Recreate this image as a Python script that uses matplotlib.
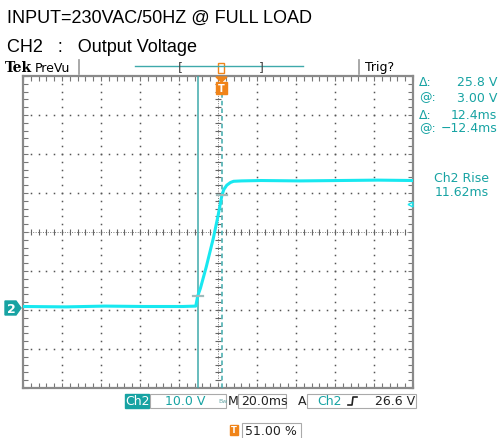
import matplotlib.pyplot as plt
from matplotlib.patches import Rectangle, Polygon
import numpy as np

# scope settings
volts_per_div = 10.0
ms_per_div = 20.0
trig_pos = 0.51          # trigger position in record (51.00 %)
ch2_pos_div = -1.94      # ground marker, divisions from centre
trig_level = 26.6

# Ch2 trace, time in ms relative to trigger, volts
time_ms = [-101.8, -80, -60, -40, -20, -13.4, -12.4, -11.0, -8.0, -4.4, -2.0, 0.0,
           1.0, 2.5, 4.4, 6.0, 10, 20, 40, 60, 80, 98.2]
ch2_v = [0.3, 0.2, 0.4, 0.3, 0.3, 0.4, 3.0, 5.0, 10.5, 17.8, 23.5, 28.8,
         30.3, 31.4, 32.1, 32.4, 32.5, 32.6, 32.5, 32.6, 32.7, 32.6]

# cursors
cursor_t = [-12.4, 0.0]
cursor_v = [3.0, 28.8]

title_lines = ["INPUT=230VAC/50HZ @ FULL LOAD", "CH2   :   Output Voltage"]
readouts = [("Δ:", "25.8 V"), ("@:", "3.00 V"), ("Δ:", "12.4ms"), ("@:", "\u221212.4ms")]
rise_label = ["Ch2 Rise", "11.62ms"]

W, H = 500, 439
TEAL = '#17a3a3'
CURS = '#3fa9ab'
TRACE = '#18e8f0'
ORANGE = '#f08419'
GRID = '#555555'


def fx(x):
    return x / W


def fy(y):
    return 1 - y / H


def ftext(x, y, s, **kw):
    kw.setdefault('va', 'center')
    kw.setdefault('fontsize', 9)
    fig.text(fx(x), fy(y), s, **kw)


def frect(x0, y0, x1, y1, **kw):
    fig.add_artist(Rectangle((fx(x0), fy(y1)), fx(x1) - fx(x0), fy(y0) - fy(y1),
                             transform=fig.transFigure, **kw))


def fline(xs, ys, **kw):
    fig.add_artist(plt.Line2D([fx(x) for x in xs], [fy(y) for y in ys],
                              transform=fig.transFigure, **kw))


fig = plt.figure(figsize=(5, 4.39), dpi=100, facecolor='white')

# graticule area in pixels
gl, gr, gt, gb = 23, 413, 77, 389
rect = [fx(gl), fy(gb), fx(gr) - fx(gl), fy(gt) - fy(gb)]

grat = fig.add_axes(rect)
grat.set_xlim(0, 10)
grat.set_ylim(0, 8)
grat.set_xticks(np.arange(0, 10.01, 0.2))
grat.set_yticks(np.arange(0, 8.01, 0.2))
grat.tick_params(direction='in', length=3.5, width=0.8, color='#777777',
                 top=True, right=True, labelbottom=False, labelleft=False)
for sp in grat.spines.values():
    sp.set_color('#8a8a8a')
    sp.set_linewidth(1.6)
grat.patch.set_alpha(0)

minor = np.arange(0.2, 10, 0.2)
minor_y = np.arange(0.2, 8, 0.2)
for i in range(1, 10):
    if i == 5:
        continue
    grat.plot([i] * len(minor_y), minor_y, ls='none', marker='s', ms=1.1, color=GRID, mew=0)
for j in range(1, 8):
    if j == 4:
        continue
    grat.plot(minor, [j] * len(minor), ls='none', marker='s', ms=1.1, color=GRID, mew=0)
# centre crosshair
grat.plot([0, 10], [4, 4], color='#777777', lw=0.7, ls=(0, (1, 1.5)))
grat.plot([5, 5], [0, 8], color='#777777', lw=0.7, ls=(0, (1, 1.5)))
grat.plot(minor, [4] * len(minor), ls='none', marker='|', ms=5, mew=0.8, color='#666666')
grat.plot([5] * len(minor_y), minor_y, ls='none', marker='_', ms=5, mew=0.8, color='#666666')

# signal axes in physical units
ax = fig.add_axes(rect)
t_left = -trig_pos * 10 * ms_per_div
ax.set_xlim(t_left, t_left + 10 * ms_per_div)
v_bot = (-4 - ch2_pos_div) * volts_per_div
ax.set_ylim(v_bot, v_bot + 8 * volts_per_div)
ax.axis('off')
ax.patch.set_alpha(0)

ax.axvline(cursor_t[0], color=CURS, lw=1.1)
ax.axvline(cursor_t[1], color=CURS, lw=1.1, ls=(0, (3, 2)))
ax.plot(time_ms, ch2_v, color=TRACE, lw=2.2, solid_joinstyle='round')
for t, v in zip(cursor_t, cursor_v):
    ax.plot([t - 2.6, t + 2.6], [v, v], color='#9fbcbc', lw=1.6)
ax.plot([t_left + 10 * ms_per_div - 1.6], [trig_level], marker='<', ms=3.5,
        color=TRACE, mfc='none', mew=1.0, clip_on=False)

# title text
ftext(7, 18, title_lines[0], fontsize=13, family='Liberation Sans')
ftext(7, 48, title_lines[1], fontsize=13, family='Liberation Sans')

# top status bar
ftext(5, 68, "Tek", fontsize=10, weight='bold', family='DejaVu Serif')
ftext(35, 68, "PreVu", fontsize=9)
fline([79, 79], [61, 75], color='#999999', lw=1.2)
fline([359, 359], [61, 75], color='#999999', lw=1.2)
ftext(365, 68, "Trig?", fontsize=9)
fline([135, 303], [67, 67], color=CURS, lw=1.0)
ftext(178, 68, "[", fontsize=9, color='#444444')
ftext(259, 68, "]", fontsize=9, color='#444444')
frect(218, 64, 224, 74, fill=False, ec=ORANGE, lw=1.0)
# trigger T at top of graticule
fig.add_artist(Polygon([(fx(216), fy(78)), (fx(227), fy(78)), (fx(221.5), fy(83))],
                       transform=fig.transFigure, color=ORANGE))
frect(216, 83, 227, 95, color=ORANGE)
ftext(221.5, 89, "T", fontsize=7, color='white', weight='bold', ha='center')

# right readouts
ry = [83, 98, 116, 129]
for (a, b), y in zip(readouts, ry):
    ftext(419, y, a, color=TEAL)
    ftext(497, y, b, color=TEAL, ha='right')
ftext(462, 179, rise_label[0], color=TEAL, ha='center')
ftext(462, 193, rise_label[1], color=TEAL, ha='center')

# ch2 ground marker
fig.add_artist(Polygon([(fx(5), fy(302)), (fx(16), fy(302)), (fx(21), fy(309)),
                        (fx(16), fy(316)), (fx(5), fy(316))],
                       transform=fig.transFigure, color=TEAL))
ftext(11, 309.5, "2", color='white', weight='bold', ha='center', fontsize=9)

# bottom status line
frect(125, 395, 149, 409, color=TEAL)
ftext(137, 402, "Ch2", color='white', ha='center')
frect(150, 395, 226, 409, fill=False, ec='#aaaaaa', lw=0.8)
ftext(165, 402, "10.0 V", color=TEAL)
ftext(218, 402, "Bw", color='#6aa8a8', fontsize=4.5)
ftext(228, 402, "M", color='#222222')
frect(238, 395, 286, 409, fill=False, ec='#aaaaaa', lw=0.8)
ftext(241, 402, "20.0ms", color='#222222')
ftext(298, 402, "A", color='#222222')
frect(307, 395, 416, 409, fill=False, ec='#aaaaaa', lw=0.8)
ftext(317, 402, "Ch2", color=TEAL)
fline([348, 352, 353, 357], [406, 406, 398, 398], color='#222222', lw=1.2)
ftext(415, 402, "26.6 V", color='#222222', ha='right')

frect(230, 426, 238, 436, color=ORANGE)
ftext(234, 431, "T", color='white', weight='bold', ha='center', fontsize=6)
frect(242, 424, 301, 440, fill=False, ec='#aaaaaa', lw=0.8)
ftext(245, 432, "51.00 %", color='#222222')

fig.savefig('out.png', dpi=100, facecolor='white')
